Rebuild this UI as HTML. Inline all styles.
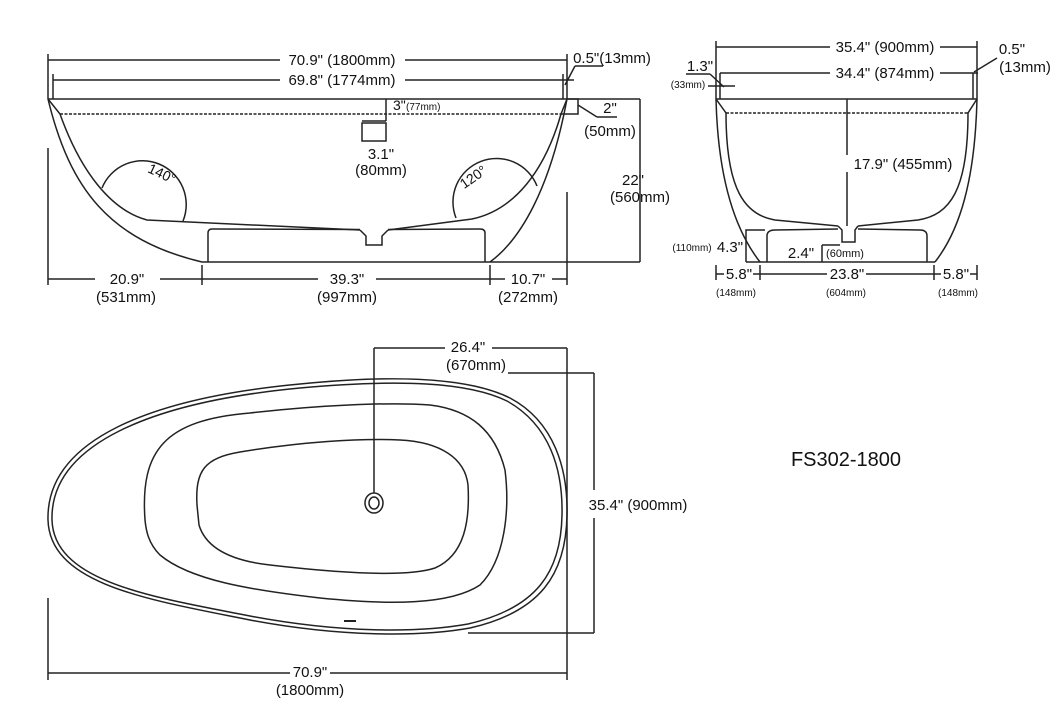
<!DOCTYPE html>
<html><head><meta charset="utf-8"><style>
html,body{margin:0;padding:0;background:#fff;}
svg{display:block;}
text{font-family:"Liberation Sans",sans-serif;fill:#111;}
</style></head><body>
<svg width="1060" height="714" viewBox="0 0 1060 714" xmlns="http://www.w3.org/2000/svg">
<g fill="none" stroke="#222" stroke-width="1.5">
<!-- SIDE VIEW -->
<line x1="48" y1="99" x2="640" y2="99"/>
<line x1="60" y1="114" x2="561" y2="114" stroke-dasharray="3,1.5"/>
<path d="M48,99 C70,190 110,240 202,262"/>
<path d="M48,99 L60,114 C80,170 110,210 147,220 L360,230"/>
<path d="M567,99 C550,190 520,240 490,262"/>
<path d="M567,99 L561,114 C545,170 515,210 472,219 L388,230"/>
<path d="M360,230 L366,236 L366,245 L382,245 L382,236 L388,230"/>
<line x1="202" y1="262" x2="490" y2="262"/>
<path d="M208,262 L208,233 Q208,229 212,229 L360,229.5 M388,229.5 L480,229 Q485,229 485,233 L485,262"/>
<path d="M102,188 A42,42 0 0 1 183,221"/>
<path d="M456,218 A40,40 0 0 1 537,186"/>
<rect x="362" y="123" width="24" height="18"/>
<line x1="362" y1="121" x2="386" y2="121"/>
<line x1="386" y1="99" x2="386" y2="121"/>
<!-- top dims -->
<line x1="48" y1="60" x2="280" y2="60"/><line x1="405" y1="60" x2="567" y2="60"/>
<line x1="48" y1="54" x2="48" y2="99"/><line x1="567" y1="54" x2="567" y2="99"/>
<line x1="53" y1="80" x2="280" y2="80"/><line x1="405" y1="80" x2="574" y2="80"/>
<line x1="53" y1="74" x2="53" y2="99"/><line x1="563" y1="74" x2="563" y2="99"/>
<line x1="575" y1="66" x2="565" y2="85"/><line x1="575" y1="66" x2="603" y2="66"/>
<polyline points="567,99 578,99 578,114 561,114"/>
<line x1="578" y1="105" x2="597" y2="117"/><line x1="597" y1="117" x2="617" y2="117"/>
<line x1="640" y1="99" x2="640" y2="262"/><line x1="490" y1="262" x2="640" y2="262"/>
<!-- bottom dims -->
<line x1="48" y1="148" x2="48" y2="285"/>
<line x1="202" y1="265" x2="202" y2="285"/>
<line x1="490" y1="265" x2="490" y2="285"/>
<line x1="567" y1="192" x2="567" y2="285"/>
<line x1="48" y1="279" x2="95" y2="279"/><line x1="160" y1="279" x2="202" y2="279"/>
<line x1="202" y1="279" x2="318" y2="279"/><line x1="376" y1="279" x2="490" y2="279"/>
<line x1="490" y1="279" x2="505" y2="279"/><line x1="552" y1="279" x2="567" y2="279"/>

<!-- END VIEW -->
<line x1="716" y1="99" x2="977" y2="99"/>
<line x1="726" y1="113" x2="968" y2="113" stroke-dasharray="3,1.5"/>
<path d="M716,99 C718,180 735,230 760,262"/>
<path d="M716,99 L726,113 C726,190 745,215 775,220 L838,226"/>
<path d="M977,99 C975,180 960,230 935,262"/>
<path d="M977,99 L968,113 C968,190 950,215 918,220 L858,226"/>
<path d="M838,226 L842,230 L842,242 L855,242 L855,230 L858,226"/>
<line x1="746" y1="262" x2="935" y2="262"/>
<polyline points="746,262 746,230 765,230"/>
<path d="M767,262 L767,236 Q767,230 775,230 L838,229 M858,229 L920,230 Q927,230 927,236 L927,262"/>
<line x1="847" y1="99" x2="847" y2="155"/><line x1="847" y1="172" x2="847" y2="226"/>
<line x1="822" y1="245" x2="822" y2="262"/><line x1="822" y1="245" x2="840" y2="245"/>
<line x1="716" y1="41" x2="716" y2="99"/><line x1="977" y1="41" x2="977" y2="99"/>
<line x1="716" y1="47" x2="830" y2="47"/><line x1="940" y1="47" x2="977" y2="47"/>
<line x1="720" y1="73" x2="720" y2="99"/><line x1="973" y1="73" x2="973" y2="99"/>
<line x1="720" y1="73" x2="830" y2="73"/><line x1="940" y1="73" x2="978" y2="73"/>
<line x1="686" y1="74" x2="710" y2="74"/><line x1="710" y1="74" x2="724" y2="87"/>
<line x1="708" y1="86" x2="735" y2="86"/>
<line x1="974" y1="72" x2="997" y2="58"/>
<line x1="716" y1="265" x2="716" y2="280"/><line x1="760" y1="265" x2="760" y2="280"/>
<line x1="934" y1="265" x2="934" y2="280"/><line x1="977" y1="265" x2="977" y2="280"/>
<line x1="716" y1="274" x2="724" y2="274"/><line x1="753" y1="274" x2="760" y2="274"/>
<line x1="760" y1="274" x2="827" y2="274"/><line x1="866" y1="274" x2="934" y2="274"/>
<line x1="934" y1="274" x2="941" y2="274"/><line x1="970" y1="274" x2="977" y2="274"/>

<!-- PLAN VIEW -->
<path d="M48,520 C46,440 150,398 300,384 C400,374 470,378 510,398 C555,422 568,470 567,515 C566,575 540,612 470,628 C420,637 340,637 250,620 C150,600 50,585 48,520 Z"/>
<path d="M52,520 C50,444 152,402 300,388 C400,379 468,382 507,401 C550,425 563,470 562,515 C561,572 537,608 468,624 C418,633 340,633 250,616 C152,597 54,582 52,520 Z"/>
<path d="M145,520 C140,450 165,420 250,413 C320,405 390,402 430,405 C470,410 495,430 505,470 C510,510 505,560 480,585 C450,605 390,605 320,598 C250,590 190,580 160,555 C148,543 146,530 145,520 Z"/>
<path d="M197,505 C195,470 205,458 240,452 C300,442 360,438 400,440 C440,442 465,458 468,485 C470,520 465,555 435,568 C405,578 330,572 270,565 C225,560 205,545 199,525 Z"/>
<ellipse cx="374" cy="503" rx="9" ry="10"/>
<ellipse cx="374" cy="503" rx="5" ry="6"/>
<line x1="344" y1="621" x2="356" y2="621" stroke-width="2"/>
<line x1="374" y1="348" x2="374" y2="493"/>
<line x1="374" y1="348" x2="445" y2="348"/><line x1="492" y1="348" x2="567" y2="348"/>
<line x1="567" y1="348" x2="567" y2="680"/>
<line x1="508" y1="373" x2="594" y2="373"/><line x1="468" y1="633" x2="594" y2="633"/>
<line x1="594" y1="373" x2="594" y2="490"/><line x1="594" y1="518" x2="594" y2="633"/>
<line x1="48" y1="598" x2="48" y2="680"/>
<line x1="48" y1="673" x2="290" y2="673"/><line x1="330" y1="673" x2="567" y2="673"/>
</g>
<g font-size="15" text-anchor="middle">
<text x="342" y="65">70.9" (1800mm)</text>
<text x="342" y="85">69.8" (1774mm)</text>
<text x="612" y="63">0.5"(13mm)</text>
<text x="393" y="110" text-anchor="start" font-size="14">3"</text>
<text x="406" y="110" text-anchor="start" font-size="10">(77mm)</text>
<text x="610" y="113">2"</text>
<text x="610" y="136">(50mm)</text>
<text x="633" y="185">22"</text>
<text x="640" y="202">(560mm)</text>
<text x="381" y="159">3.1"</text>
<text x="381" y="175">(80mm)</text>
<text x="160" y="178" transform="rotate(25 160 178)" font-size="14">140°</text>
<text x="476" y="181" transform="rotate(-35 476 181)" font-size="14">120°</text>
<text x="127" y="284">20.9"</text><text x="126" y="302">(531mm)</text>
<text x="347" y="284">39.3"</text><text x="347" y="302">(997mm)</text>
<text x="528" y="284">10.7"</text><text x="528" y="302">(272mm)</text>

<text x="885" y="52">35.4" (900mm)</text>
<text x="885" y="78">34.4" (874mm)</text>
<text x="700" y="71">1.3"</text>
<text x="688" y="88" font-size="10">(33mm)</text>
<text x="1012" y="54">0.5"</text>
<text x="1025" y="72">(13mm)</text>
<text x="903" y="169">17.9" (455mm)</text>
<text x="692" y="251" font-size="10">(110mm)</text>
<text x="730" y="252">4.3"</text>
<text x="801" y="258">2.4"</text>
<text x="845" y="257" font-size="11">(60mm)</text>
<text x="739" y="279">5.8"</text>
<text x="847" y="279">23.8"</text>
<text x="956" y="279">5.8"</text>
<text x="736" y="296" font-size="10">(148mm)</text>
<text x="846" y="296" font-size="10">(604mm)</text>
<text x="958" y="296" font-size="10">(148mm)</text>

<text x="468" y="352">26.4"</text>
<text x="476" y="370">(670mm)</text>
<text x="638" y="510">35.4" (900mm)</text>
<text x="310" y="677">70.9"</text>
<text x="310" y="695">(1800mm)</text>
<text x="846" y="466" font-size="20">FS302-1800</text>
</g>
</svg>
</body></html>
